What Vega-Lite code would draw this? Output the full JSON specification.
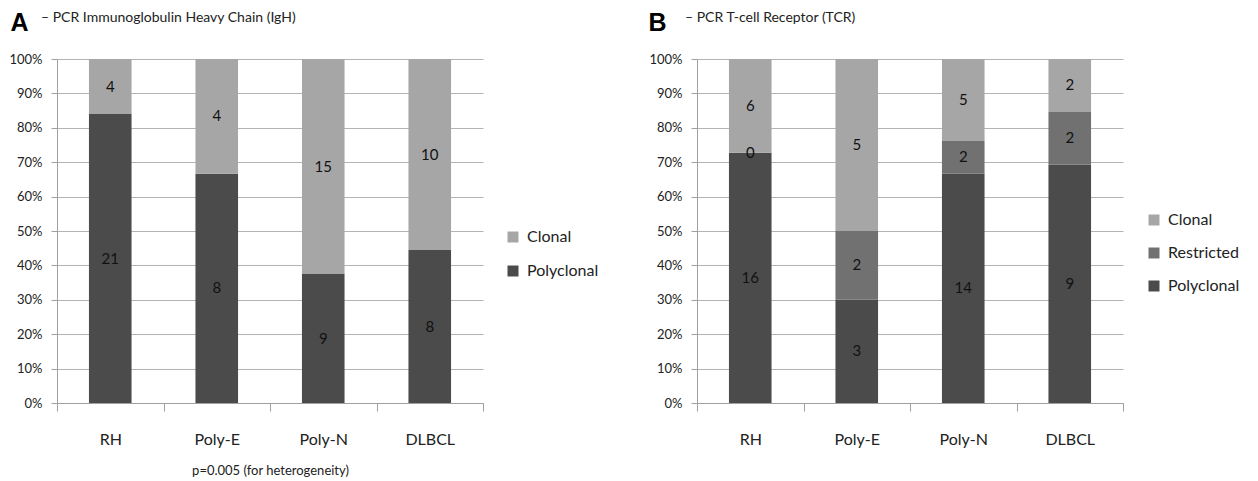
{
  "$schema": "https://vega.github.io/schema/vega-lite/v6.json",
  "padding": {"left": 8, "top": 10, "right": 0, "bottom": 0},
  "background": "white",
  "bounds": "flush",
  "spacing": 214,
  "config": {
    "view": {"stroke": null},
    "font": "Lato",
    "axis": {
      "labelFont": "Lato",
      "labelColor": "#222222",
      "domainColor": "#a0a0a0",
      "tickColor": "#a0a0a0",
      "gridColor": "#b4b4b4"
    },
    "axisY": {
      "format": ".0%",
      "tickCount": 12,
      "labelOverlap": false,
      "labelFlush": false,
      "labelFontSize": 13,
      "labelPadding": 9,
      "tickSize": 6,
      "titleAngle": 0,
      "titleAlign": "left",
      "titleBaseline": "alphabetic",
      "titleY": -28.5,
      "titleFont": "Liberation Sans",
      "titleFontSize": 25,
      "titleFontWeight": "bold",
      "titleColor": "#000000"
    },
    "legend": {
      "labelFont": "Lato",
      "labelFontSize": 16,
      "labelColor": "#222222",
      "symbolType": "square",
      "symbolSize": 121,
      "symbolStrokeWidth": 0,
      "labelOffset": 6,
      "orient": "none"
    }
  },
  "datasets": {
    "igh": [
      {"group": "RH", "segment": "Polyclonal", "n": 21, "rank": 1},
      {"group": "RH", "segment": "Clonal", "n": 4, "rank": 3},
      {"group": "Poly-E", "segment": "Polyclonal", "n": 8, "rank": 1},
      {"group": "Poly-E", "segment": "Clonal", "n": 4, "rank": 3},
      {"group": "Poly-N", "segment": "Polyclonal", "n": 9, "rank": 1},
      {"group": "Poly-N", "segment": "Clonal", "n": 15, "rank": 3},
      {"group": "DLBCL", "segment": "Polyclonal", "n": 8, "rank": 1},
      {"group": "DLBCL", "segment": "Clonal", "n": 10, "rank": 3}
    ],
    "tcr": [
      {"group": "RH", "segment": "Polyclonal", "n": 16, "rank": 1},
      {"group": "RH", "segment": "Restricted", "n": 0, "rank": 2},
      {"group": "RH", "segment": "Clonal", "n": 6, "rank": 3},
      {"group": "Poly-E", "segment": "Polyclonal", "n": 3, "rank": 1},
      {"group": "Poly-E", "segment": "Restricted", "n": 2, "rank": 2},
      {"group": "Poly-E", "segment": "Clonal", "n": 5, "rank": 3},
      {"group": "Poly-N", "segment": "Polyclonal", "n": 14, "rank": 1},
      {"group": "Poly-N", "segment": "Restricted", "n": 2, "rank": 2},
      {"group": "Poly-N", "segment": "Clonal", "n": 5, "rank": 3},
      {"group": "DLBCL", "segment": "Polyclonal", "n": 9, "rank": 1},
      {"group": "DLBCL", "segment": "Restricted", "n": 2, "rank": 2},
      {"group": "DLBCL", "segment": "Clonal", "n": 2, "rank": 3}
    ]
  },
  "resolve": {"scale": {"color": "independent"}, "legend": {"color": "independent"}},
  "hconcat": [
    {
      "width": 426,
      "height": 344,
      "title": {
        "text": "– PCR Immunoglobulin Heavy Chain (IgH)",
        "anchor": "start",
        "frame": "group",
        "font": "Lato",
        "fontSize": 14,
        "fontWeight": "normal",
        "color": "#222222",
        "dx": -16,
        "offset": -14
      },
      "data": {"name": "igh"},
      "transform": [
        {"stack": "n", "groupby": ["group"], "sort": [{"field": "rank"}], "offset": "normalize", "as": ["y0", "y1"]},
        {"calculate": "(datum.y0 + datum.y1) / 2", "as": "ymid"}
      ],
      "layer": [
        {
          "mark": {"type": "bar", "width": {"band": 0.4}},
          "encoding": {
            "x": {
              "field": "group", "type": "nominal",
              "sort": ["RH", "Poly-E", "Poly-N", "DLBCL"],
              "scale": {"paddingInner": 0, "paddingOuter": 0},
              "axis": {
                "labelAngle": 0, "labelFontSize": 16, "labelPadding": 20,
                "tickSize": 8, "tickBand": "extent",
                "title": "p=0.005 (for heterogeneity)",
                "titleFont": "Lato", "titleFontSize": 13, "titleFontWeight": "normal",
                "titleColor": "#222222", "titlePadding": 17
              }
            },
            "y": {
              "field": "y0", "type": "quantitative",
              "scale": {"domain": [0, 1], "nice": false},
              "axis": {"title": "A", "titleX": -47, "tickCount": 12, "values": [0, 0.1, 0.2, 0.3, 0.4, 0.5, 0.6, 0.7, 0.8, 0.9, 1]}
            },
            "y2": {"field": "y1"},
            "color": {
              "field": "segment", "type": "nominal",
              "scale": {"domain": ["Clonal", "Polyclonal"], "range": ["#a6a6a6", "#4b4b4b"]},
              "legend": {"title": null, "legendX": 448, "legendY": 170, "rowPadding": 18}
            }
          }
        },
        {
          "mark": {"type": "text", "font": "Lato", "fontSize": 15, "color": "#111111", "baseline": "middle"},
          "encoding": {
            "x": {"field": "group", "type": "nominal", "sort": ["RH", "Poly-E", "Poly-N", "DLBCL"]},
            "y": {"field": "ymid", "type": "quantitative", "axis": {"title": "A", "titleX": -47, "tickCount": 12, "values": [0, 0.1, 0.2, 0.3, 0.4, 0.5, 0.6, 0.7, 0.8, 0.9, 1]}},
            "text": {"field": "n", "type": "quantitative"}
          }
        }
      ]
    },
    {
      "width": 426,
      "height": 344,
      "title": {
        "text": "– PCR T-cell Receptor (TCR)",
        "anchor": "start",
        "frame": "group",
        "font": "Lato",
        "fontSize": 14,
        "fontWeight": "normal",
        "color": "#222222",
        "dx": -12,
        "offset": -14
      },
      "data": {"name": "tcr"},
      "transform": [
        {"stack": "n", "groupby": ["group"], "sort": [{"field": "rank"}], "offset": "normalize", "as": ["y0", "y1"]},
        {"calculate": "(datum.y0 + datum.y1) / 2", "as": "ymid"}
      ],
      "layer": [
        {
          "mark": {"type": "bar", "width": {"band": 0.4}},
          "encoding": {
            "x": {
              "field": "group", "type": "nominal",
              "sort": ["RH", "Poly-E", "Poly-N", "DLBCL"],
              "scale": {"paddingInner": 0, "paddingOuter": 0},
              "axis": {
                "labelAngle": 0, "labelFontSize": 16, "labelPadding": 20,
                "tickSize": 8, "tickBand": "extent", "title": null
              }
            },
            "y": {
              "field": "y0", "type": "quantitative",
              "scale": {"domain": [0, 1], "nice": false},
              "axis": {"title": "B", "titleX": -49, "tickCount": 12, "values": [0, 0.1, 0.2, 0.3, 0.4, 0.5, 0.6, 0.7, 0.8, 0.9, 1]}
            },
            "y2": {"field": "y1"},
            "color": {
              "field": "segment", "type": "nominal",
              "scale": {"domain": ["Clonal", "Restricted", "Polyclonal"], "range": ["#a6a6a6", "#717171", "#4b4b4b"]},
              "legend": {"title": null, "legendX": 449, "legendY": 153, "rowPadding": 17}
            }
          }
        },
        {
          "mark": {"type": "text", "font": "Lato", "fontSize": 15, "color": "#111111", "baseline": "middle"},
          "encoding": {
            "x": {"field": "group", "type": "nominal", "sort": ["RH", "Poly-E", "Poly-N", "DLBCL"]},
            "y": {"field": "ymid", "type": "quantitative", "axis": {"title": "B", "titleX": -49, "tickCount": 12, "values": [0, 0.1, 0.2, 0.3, 0.4, 0.5, 0.6, 0.7, 0.8, 0.9, 1]}},
            "text": {"field": "n", "type": "quantitative"}
          }
        }
      ]
    }
  ]
}
